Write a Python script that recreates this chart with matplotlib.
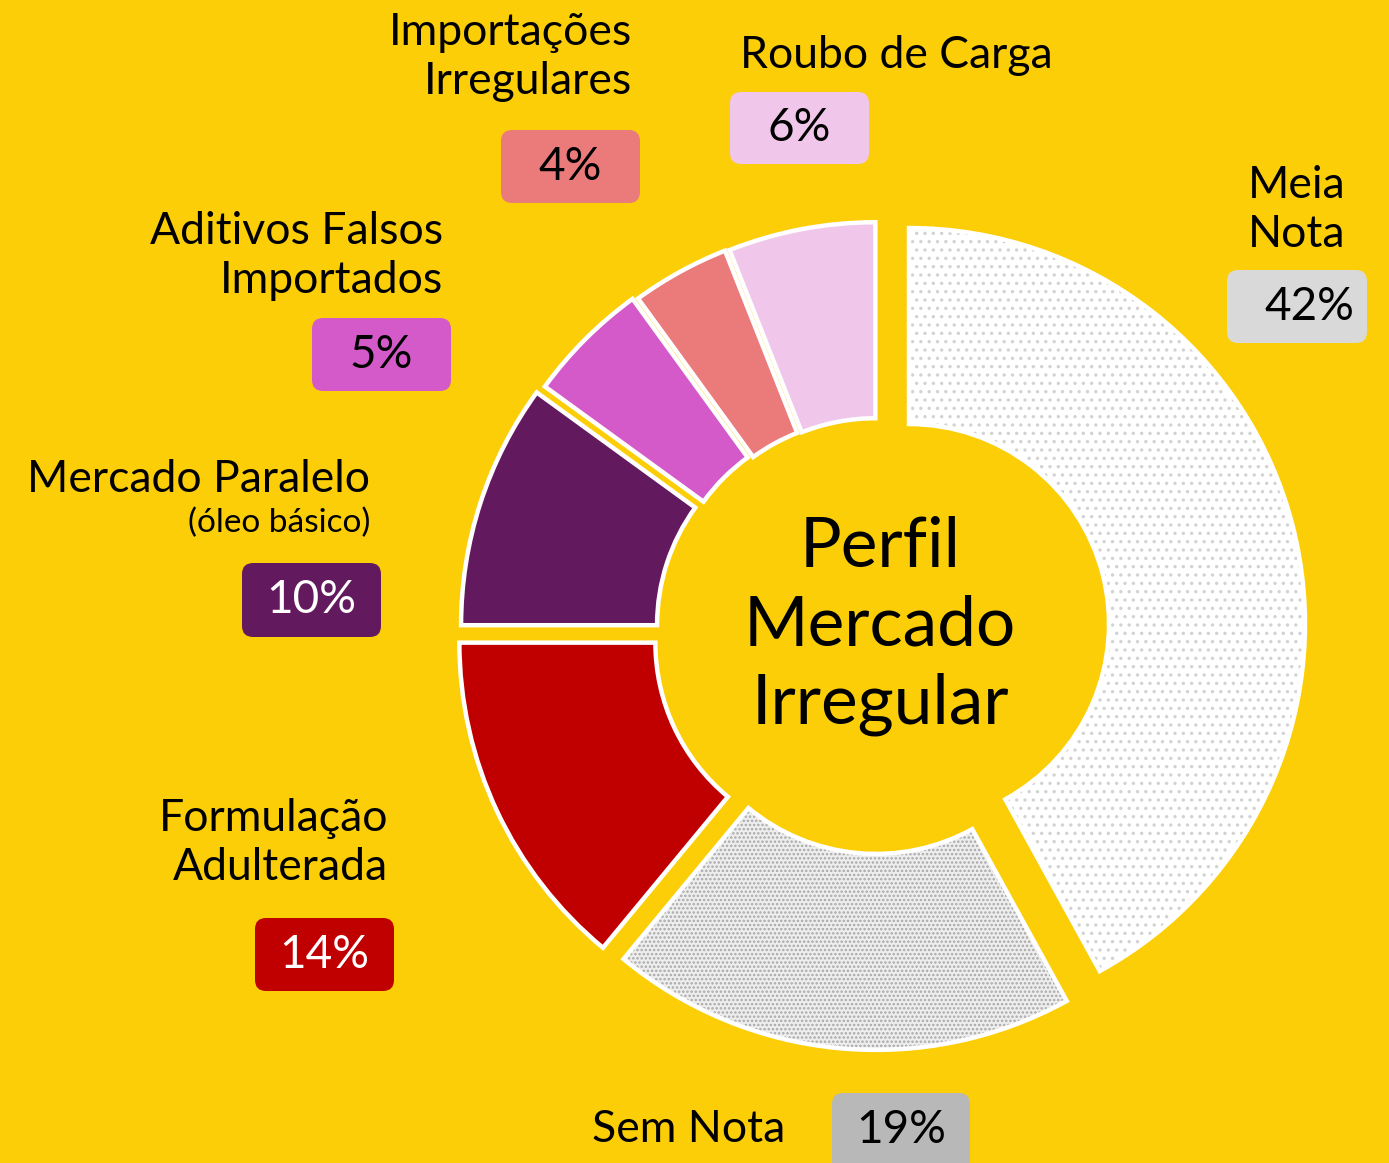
import matplotlib
matplotlib.use("Agg")
import matplotlib.pyplot as plt
from matplotlib.patches import FancyBboxPatch

# ---- data ----
categories = ["Meia Nota", "Sem Nota", "Formulação Adulterada", "Mercado Paralelo",
              "Aditivos Falsos Importados", "Importações Irregulares", "Roubo de Carga"]
values = [42, 19, 14, 10, 5, 4, 6]
pct_labels = ["42%", "19%", "14%", "10%", "5%", "4%", "6%"]

# ---- styles ----
W, H = 1389, 1163
BG = "#FCCE07"
colors = ["#FFFFFF", "#EEEEEE", "#C00000", "#63195E", "#D55AC9", "#EB7B7B", "#F0C6EA"]
hatches = ["..", "....", None, None, None, None, None]
hatch_cols = ["#D2D2D2", "#A8A8A8", None, None, None, None, None]
box_cols = ["#D9D9D9", "#B8B8B8", "#C00000", "#63195E", "#D55AC9", "#EB7B7B", "#F0C6EA"]
pct_text_cols = ["black", "black", "white", "white", "black", "black", "black"]
explode = [32, 22, 25, 22, 18, 15, 14]  # in pixels (data units)

FONT = ["Lato", "DejaVu Sans"]
plt.rcParams["font.family"] = FONT
plt.rcParams["hatch.linewidth"] = 1.2

fig = plt.figure(figsize=(W / 100, H / 100), dpi=100, facecolor=BG)
ax = fig.add_axes([0, 0, 1, 1])
ax.set_facecolor(BG)

center = (878, H - 632)
R = 396
width = 196

# fills
w1, _ = ax.pie(values, colors=colors, startangle=90, counterclock=False,
               radius=R, center=center, explode=explode, frame=True,
               wedgeprops=dict(width=width, linewidth=0, edgecolor="none"))
# hatch overlay
w2, _ = ax.pie(values, colors=["none"] * len(values), startangle=90, counterclock=False,
               radius=R, center=center, explode=explode, frame=True,
               wedgeprops=dict(width=width, linewidth=0))
for w, h, hc in zip(w2, hatches, hatch_cols):
    if h is None:
        w.set_visible(False)
    else:
        w.set_hatch(h)
        w.set_edgecolor(hc)
        w.set_facecolor("none")
# white borders
w3, _ = ax.pie(values, colors=["none"] * len(values), startangle=90, counterclock=False,
               radius=R, center=center, explode=explode, frame=True,
               wedgeprops=dict(width=width, linewidth=3.2, edgecolor="white", fill=False))
ax.set_xlim(0, W)
ax.set_ylim(0, H)
ax.set_aspect("equal")
ax.axis("off")

# centre title
ax.text(880, H - 626, "Perfil\nMercado\nIrregular", ha="center", va="center",
        fontsize=50, linespacing=1.30, color="black")

# category labels
LS = 32
labels_layout = [
    ("Meia\nNota", 1345, 210, "right"),
    ("Sem Nota", 592, 1130, "left"),
    ("Formulação\nAdulterada", 388, 843, "right"),
    ("Mercado Paralelo", 370, 480, "right"),
    ("Aditivos Falsos\nImportados", 443, 256, "right"),
    ("Importações\nIrregulares", 632, 57, "right"),
    ("Roubo de Carga", 740, 55, "left"),
]
for txt, x, y, ha in labels_layout:
    ax.text(x, H - y, txt, ha=ha, va="center", fontsize=LS, linespacing=1.24, color="black")
ax.text(370, H - 523, "(óleo básico)", ha="right", va="center", fontsize=24, color="black")

# percentage boxes: (x0, y0, x1, y1) in px
boxes = [
    (1227, 270, 1367, 343),
    (832, 1093, 970, 1185),
    (255, 918, 394, 991),
    (242, 563, 381, 637),
    (312, 318, 451, 391),
    (501, 130, 640, 203),
    (730, 92, 869, 164),
]
text_dx = [12, 0, 0, 0, 0, 0, 0]
for (x0, y0, x1, y1), bc, tc, lab, dx in zip(boxes, box_cols, pct_text_cols, pct_labels, text_dx):
    r = 11
    p = FancyBboxPatch((x0 + r, H - y1 + r), (x1 - x0) - 2 * r, (y1 - y0) - 2 * r,
                       boxstyle=f"round,pad={r},rounding_size={r}",
                       facecolor=bc, edgecolor="none", clip_on=False)
    ax.add_patch(p)
    yc = (y0 + y1) / 2 if y1 <= H else 1130
    ax.text((x0 + x1) / 2 + dx, H - yc, lab, ha="center", va="center",
            fontsize=33, color=tc)

fig.savefig("out.png", dpi=100, facecolor=BG)
